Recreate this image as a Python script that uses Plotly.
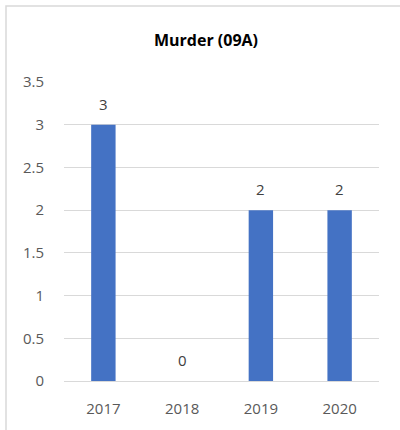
import plotly.graph_objects as go

years = ["2017", "2018", "2019", "2020"]
values = [3, 0, 2, 2]
y_ticks = [0, 0.5, 1, 1.5, 2, 2.5, 3, 3.5]
y_tick_labels = ["0", "0.5", "1", "1.5", "2", "2.5", "3", "3.5"]

W, H = 400, 430
ML, MT = 64, 82
MR = W - 379
MB = H - 381
pw, ph = W - ML - MR, H - MT - MB

font_family = "Open Sans, sans-serif"
gray = "#595959"

fig = go.Figure(go.Bar(
    x=years, y=values,
    marker=dict(color="#4472C4", line=dict(width=0)),
    width=0.31,
    hoverinfo="x+y",
))

# data labels (category axis: annotation x given as category index)
for i, v in enumerate(values):
    fig.add_annotation(x=i, y=v, xref="x", yref="y", text=str(v), showarrow=False,
                       yanchor="middle", yshift=21,
                       font=dict(family=font_family, size=15, color="#404040"))

# chart-area border (partially outside view, as in reference)
x0 = (6 - ML) / pw
x1 = (420 - ML) / pw
y0 = 1 - (450 - MT) / ph
y1 = 1 - (6 - MT) / ph
fig.add_shape(type="rect", xref="paper", yref="paper", x0=x0, x1=x1, y0=y0, y1=y1,
              line=dict(color="#d9d9d9", width=1.5), layer="below")

fig.update_layout(
    width=W, height=H,
    margin=dict(l=ML, r=MR, t=MT, b=MB),
    paper_bgcolor="white", plot_bgcolor="white",
    title=dict(text="<b>Murder (09A)</b>", x=206 / W, xanchor="center",
               y=1 - 40 / H, yanchor="middle", yref="container",
               font=dict(family=font_family, size=16, color="#000000")),
    showlegend=False,
    font=dict(family=font_family, color=gray),
)
fig.update_yaxes(range=[0, 3.5], tickvals=y_ticks, ticktext=y_tick_labels,
                 showgrid=True, gridcolor="#d9d9d9", gridwidth=1,
                 zeroline=True, zerolinecolor="#d9d9d9", zerolinewidth=1,
                 showline=False, ticks="outside", ticklen=16, tickcolor="rgba(0,0,0,0)",
                 tickfont=dict(family=font_family, size=15, color=gray))
fig.update_xaxes(type="category", range=[-0.5, len(years) - 0.5],
                 showgrid=False, showline=False, ticks="outside", ticklen=14,
                 tickcolor="rgba(0,0,0,0)",
                 tickfont=dict(family=font_family, size=15, color=gray))

fig.write_html("out.html", config={"displayModeBar": False},
               post_script="document.body.style.margin='0';document.body.style.overflow='hidden';")
